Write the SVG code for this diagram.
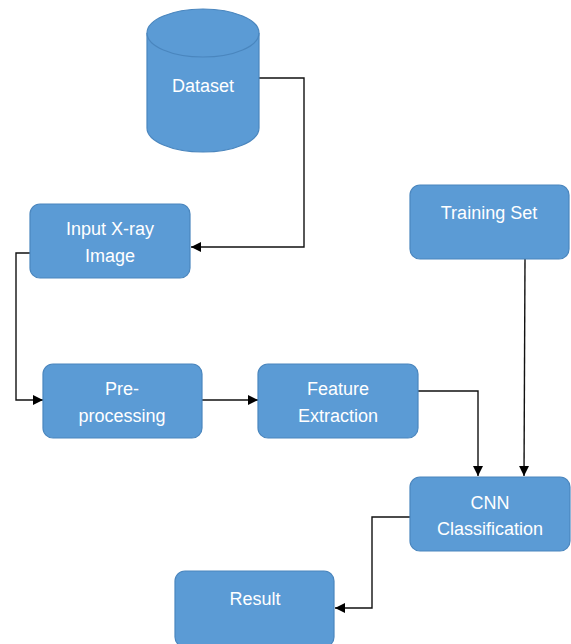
<svg xmlns="http://www.w3.org/2000/svg" width="571" height="644" viewBox="0 0 571 644">
<defs>
<style>
.box{fill:#5B9BD5;stroke:#4A86BE;stroke-width:1.2}
.t{fill:#fff;font-family:"Liberation Sans",Arial,sans-serif;font-size:18px;text-anchor:middle;dominant-baseline:central}
.c{fill:none;stroke:#111;stroke-width:1.4}
</style>
<marker id="ah" viewBox="0 0 10 10" refX="10" refY="5" markerWidth="10" markerHeight="10" markerUnits="userSpaceOnUse" orient="auto">
<path d="M0,0 L10,5 L0,10 z" fill="#000"/>
</marker>
</defs>
<rect width="571" height="644" fill="#fff"/>
<g id="connectors">
<polyline class="c" points="259,78 304,78 304,247 191,247" marker-end="url(#ah)"/>
<polyline class="c" points="30,253 16,253 16,400 43,400" marker-end="url(#ah)"/>
<line class="c" x1="202" y1="400" x2="258" y2="400" marker-end="url(#ah)"/>
<polyline class="c" points="418,391 478,391 478,476" marker-end="url(#ah)"/>
<line class="c" x1="525" y1="259" x2="524" y2="476" marker-end="url(#ah)"/>
<polyline class="c" points="410,517 372,517 372,608 335,608" marker-end="url(#ah)"/>
</g>
<g id="dataset">
<path class="box" d="M147,33 L147,128 A56,24 0 0 0 259,128 L259,33 A56,24 0 0 0 147,33 Z"/>
<path class="box" d="M147,33 A56,24 0 0 0 259,33" fill="none"/>
<text class="t" x="203" y="86">Dataset</text>
</g>
<g id="input">
<rect class="box" x="30" y="204" width="160" height="74" rx="10"/>
<text class="t" x="110" y="229">Input X-ray</text>
<text class="t" x="110" y="256">Image</text>
</g>
<g id="preprocessing">
<rect class="box" x="43" y="364" width="159" height="74" rx="10"/>
<text class="t" x="122" y="389">Pre-</text>
<text class="t" x="122" y="416">processing</text>
</g>
<g id="feature">
<rect class="box" x="258" y="364" width="160" height="74" rx="10"/>
<text class="t" x="338" y="389">Feature</text>
<text class="t" x="338" y="416">Extraction</text>
</g>
<g id="training">
<rect class="box" x="410" y="185" width="159" height="74" rx="10"/>
<text class="t" x="489" y="213">Training Set</text>
</g>
<g id="cnn">
<rect class="box" x="410" y="477" width="160" height="74" rx="10"/>
<text class="t" x="490" y="503">CNN</text>
<text class="t" x="490" y="529">Classification</text>
</g>
<g id="result">
<rect class="box" x="175" y="571" width="159" height="76" rx="10"/>
<text class="t" x="255" y="599">Result</text>
</g>
</svg>
